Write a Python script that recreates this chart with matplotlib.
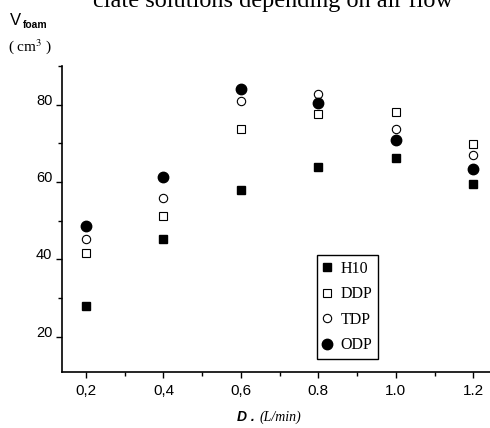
import numpy as np
import matplotlib
matplotlib.use("Agg")
import matplotlib.pyplot as plt
from matplotlib.ticker import MultipleLocator

# air flow D (L/min)
flow = [0.2, 0.4, 0.6, 0.8, 1.0, 1.2]
xtick_labels = ['0,2', '0,4', '0,6', '0.8', '1.0', '1.2']

# foam volume (cm3)
h10 = [27.9, 45.4, 58.0, 64.0, 66.1, 59.4]
ddp = [41.8, 51.2, 73.6, 77.6, 78.0, 69.9]
tdp = [45.3, 56.0, 81.0, 82.8, 73.7, 67.1]
odp = [48.7, 61.2, 84.1, 80.4, 70.9, 63.4]

serif = 'Liberation Serif'
sans = 'Liberation Sans'

fig = plt.figure(figsize=(4.9, 4.28), dpi=100)
ax = fig.add_axes([0.1265, 0.1315, 0.8735, 0.7143])

ax.plot(flow, h10, 's', color='black', ms=5.5, label='H10')
ax.plot(flow, ddp, 's', mfc='white', mec='black', mew=0.8, ms=5.5, label='DDP')
ax.plot(flow, tdp, 'o', mfc='white', mec='black', mew=0.8, ms=6, label='TDP')
ax.plot(flow, odp, 'o', color='black', ms=7.5, label='ODP')

ax.set_xlim(0.138, 1.243)
ax.set_ylim(11, 90)

ax.spines['top'].set_visible(False)
ax.spines['right'].set_visible(False)
for s in ['left', 'bottom']:
    ax.spines[s].set_linewidth(1.2)

ax.set_xticks(flow)
ax.set_xticklabels(xtick_labels, fontfamily=sans, fontsize=11)
ax.xaxis.set_minor_locator(MultipleLocator(0.1))
ax.set_yticks([20, 40, 60, 80])
ax.set_yticklabels(['20', '40', '60', '80'], fontfamily=sans, fontsize=10.5)
for lbl in ax.get_yticklabels():
    lbl.set_verticalalignment('baseline')
ax.yaxis.set_minor_locator(MultipleLocator(10))
ax.tick_params(which='major', length=4, width=1, pad=3)
ax.tick_params(which='minor', length=3, width=1)
ax.tick_params(axis='x', pad=5)

leg = ax.legend(loc='lower left', bbox_to_anchor=(0.596, 0.0415), borderaxespad=0,
                prop={'family': serif, 'size': 11.5}, handlelength=0.6,
                handletextpad=0.5, labelspacing=0.6, borderpad=0.35,
                fancybox=False, edgecolor='black', framealpha=1)
leg.get_frame().set_linewidth(1.0)

# axis labels
fig.text(0.021, 1 - 25 / 428, 'V', fontfamily=sans, fontsize=12, va='baseline')
fig.text(0.046, 1 - 28 / 428, 'foam', fontfamily=sans, fontsize=7.5,
         fontweight='bold', va='baseline')
fig.text(0.016, 1 - 51 / 428, r'( cm$^3$ )', fontfamily=serif, fontsize=11,
         va='baseline', math_fontfamily='stix')
fig.text(237 / 490, 1 - 421 / 428, 'D .', fontfamily=sans, fontsize=10,
         fontweight='bold', fontstyle='italic', va='baseline')
fig.text(260 / 490, 1 - 421 / 428, '(L/min)', fontfamily=serif, fontsize=10,
         fontstyle='italic', va='baseline')

# cropped page text above the chart
fig.text(93 / 490, 1 - 7 / 428, 'ciate solutions depending on air flow',
         fontfamily=serif, fontsize=17.5, va='baseline')

fig.savefig('out.png', dpi=100)
